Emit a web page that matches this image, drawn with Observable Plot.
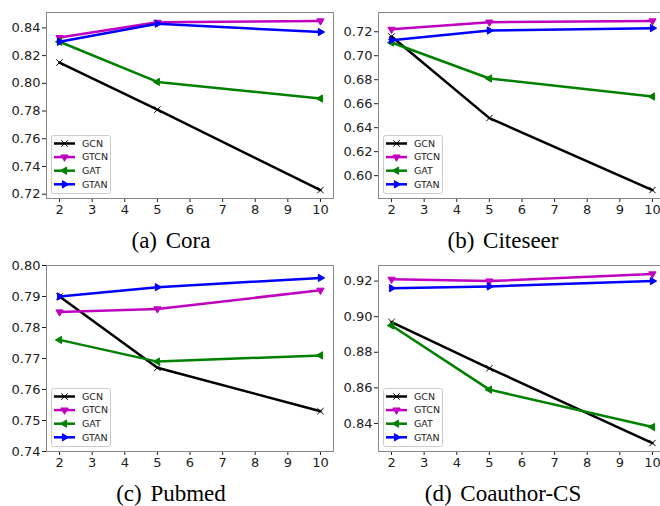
<!DOCTYPE html>
<html><head><meta charset="utf-8">
<script src="https://cdn.jsdelivr.net/npm/d3@7"></script>
<script src="https://cdn.jsdelivr.net/npm/@observablehq/plot@0.6"></script>
<style>
html,body{margin:0;padding:0;background:#fff;}
#wrap{position:relative;width:660px;height:506px;overflow:hidden;background:#fff;}
.panel{position:absolute;}
.cap{position:absolute;font-family:"Liberation Serif","Times New Roman",serif;font-size:23px;line-height:20px;white-space:nowrap;word-spacing:3px;color:#000;transform:translateX(-50%);}
.legend{position:absolute;}
</style></head><body><div id="wrap"></div>
<script>
// ---- data ----
const kValues = [2, 5, 10];
const xTicks = [2, 3, 4, 5, 6, 7, 8, 9, 10];
const seriesNames = ["GCN", "GTCN", "GAT", "GTAN"];

const coraGCN  = [0.815, 0.781, 0.723];
const coraGTCN = [0.833, 0.844, 0.845];
const coraGAT  = [0.830, 0.801, 0.789];
const coraGTAN = [0.830, 0.843, 0.837];
const coraTicks = [0.72, 0.74, 0.76, 0.78, 0.80, 0.82, 0.84];

const citeseerGCN  = [0.716, 0.648, 0.588];
const citeseerGTCN = [0.722, 0.728, 0.729];
const citeseerGAT  = [0.711, 0.681, 0.666];
const citeseerGTAN = [0.713, 0.721, 0.723];
const citeseerTicks = [0.60, 0.62, 0.64, 0.66, 0.68, 0.70, 0.72];

const pubmedGCN  = [0.790, 0.767, 0.753];
const pubmedGTCN = [0.785, 0.786, 0.792];
const pubmedGAT  = [0.776, 0.769, 0.771];
const pubmedGTAN = [0.790, 0.793, 0.796];
const pubmedTicks = [0.74, 0.75, 0.76, 0.77, 0.78, 0.79, 0.80];
const pubmedLimits = [0.74, 0.80];

const coauthorGCN  = [0.897, 0.871, 0.829];
const coauthorGTCN = [0.921, 0.920, 0.924];
const coauthorGAT  = [0.895, 0.859, 0.838];
const coauthorGTAN = [0.916, 0.917, 0.920];
const coauthorTicks = [0.84, 0.86, 0.88, 0.90, 0.92];

const captions = ["(a) Cora", "(b) Citeseer", "(c) Pubmed", "(d) Coauthor-CS"];

// ---- styles ----
const seriesColors = ["#000000", "#bf00bf", "#008000", "#0000ff"];
const seriesSymbols = ["times", "triangle", "triangle", "triangle"];
const seriesRotate = [0, 180, -90, 90];

function padded(arrs) {
  const all = arrs.flat();
  const lo = d3.min(all), hi = d3.max(all), m = (hi - lo) * 0.05;
  return [lo - m, hi + m];
}

const panels = [
  {values: [coraGCN, coraGTCN, coraGAT, coraGTAN], ticks: coraTicks, limits: null, left: 0, top: 0, ml: 46, w: 333, capX: 171},
  {values: [citeseerGCN, citeseerGTCN, citeseerGAT, citeseerGTAN], ticks: citeseerTicks, limits: null, left: 330, top: 0, ml: 48, w: 335, capX: 503},
  {values: [pubmedGCN, pubmedGTCN, pubmedGAT, pubmedGTAN], ticks: pubmedTicks, limits: pubmedLimits, left: 0, top: 253, ml: 46, w: 333, capX: 171},
  {values: [coauthorGCN, coauthorGTCN, coauthorGAT, coauthorGTAN], ticks: coauthorTicks, limits: null, left: 330, top: 253, ml: 48, w: 335, capX: 503}
];

const wrap = document.getElementById("wrap");
const H = 220, MT = 12, MB = 22;

panels.forEach((p, pi) => {
  const rows = [];
  p.values.forEach((arr, si) => arr.forEach((v, i) => rows.push({k: kValues[i], acc: v, s: seriesNames[si]})));
  const yDomain = p.limits || padded(p.values);
  const marks = [];
  seriesNames.forEach((s, si) => {
    const d = rows.filter(r => r.s === s);
    marks.push(Plot.line(d, {x: "k", y: "acc", stroke: seriesColors[si], strokeWidth: 2.5}));
    if (seriesSymbols[si] === "times") {
      marks.push(Plot.dot(d, {x: "k", y: "acc", symbol: "times", r: 3, stroke: seriesColors[si], strokeWidth: 1, fill: "none"}));
    } else {
      marks.push(Plot.dot(d, {x: "k", y: "acc", symbol: "triangle", r: 2.7, rotate: seriesRotate[si], fill: seriesColors[si], stroke: seriesColors[si], strokeWidth: 1}));
    }
  });
  marks.push(Plot.frame({stroke: "#888", strokeWidth: 1}));
  const chart = Plot.plot({
    width: p.w, height: H,
    marginLeft: p.ml, marginRight: 0, marginTop: MT, marginBottom: MB,
    style: {fontFamily: "'DejaVu Sans', sans-serif", fontSize: "13px", color: "#222", background: "transparent", overflow: "visible"},
    x: {domain: [1.6, 10.4], ticks: xTicks, tickFormat: d => String(d), tickSize: 4, tickPadding: 2, label: null},
    y: {domain: yDomain, ticks: p.ticks, tickFormat: d3.format(".2f"), tickSize: 4, tickPadding: 2, label: null},
    marks
  });
  chart.classList.add("panel");
  chart.style.left = p.left + "px";
  chart.style.top = p.top + "px";
  wrap.appendChild(chart);

  // legend (lower left inside the frame)
  const lw = 60, lh = 59;
  const lg = d3.create("svg").attr("class", "legend").attr("width", lw).attr("height", lh)
    .style("left", (p.left + p.ml + 5) + "px")
    .style("top", (p.top + H - MB - 4 - lh) + "px");
  lg.append("rect").attr("x", 0.5).attr("y", 0.5).attr("width", lw - 1).attr("height", lh - 1)
    .attr("rx", 2).attr("fill", "white").attr("fill-opacity", 0.8).attr("stroke", "#cccccc");
  seriesNames.forEach((s, si) => {
    const y = 8.5 + si * 13.6;
    lg.append("line").attr("x1", 3).attr("x2", 24).attr("y1", y).attr("y2", y)
      .attr("stroke", seriesColors[si]).attr("stroke-width", 2.5);
    if (seriesSymbols[si] === "times") {
      lg.append("path").attr("d", d3.symbol(d3.symbolTimes, 28)()).attr("transform", `translate(13.5,${y})`)
        .attr("stroke", seriesColors[si]).attr("stroke-width", 1).attr("fill", "none");
    } else {
      lg.append("path").attr("d", d3.symbol(d3.symbolTriangle, 23)()).attr("transform", `translate(13.5,${y}) rotate(${seriesRotate[si]})`)
        .attr("fill", seriesColors[si]).attr("stroke", seriesColors[si]).attr("stroke-width", 1);
    }
    lg.append("text").attr("x", 31).attr("y", y).attr("dy", "0.35em")
      .attr("font-family", "'DejaVu Sans', sans-serif").attr("font-size", "9.5px").attr("fill", "#222").text(s);
  });
  wrap.appendChild(lg.node());

  const cap = document.createElement("div");
  cap.className = "cap";
  cap.textContent = captions[pi];
  cap.style.left = p.capX + "px";
  cap.style.top = (p.top + 231) + "px";
  wrap.appendChild(cap);
});
</script></body></html>
